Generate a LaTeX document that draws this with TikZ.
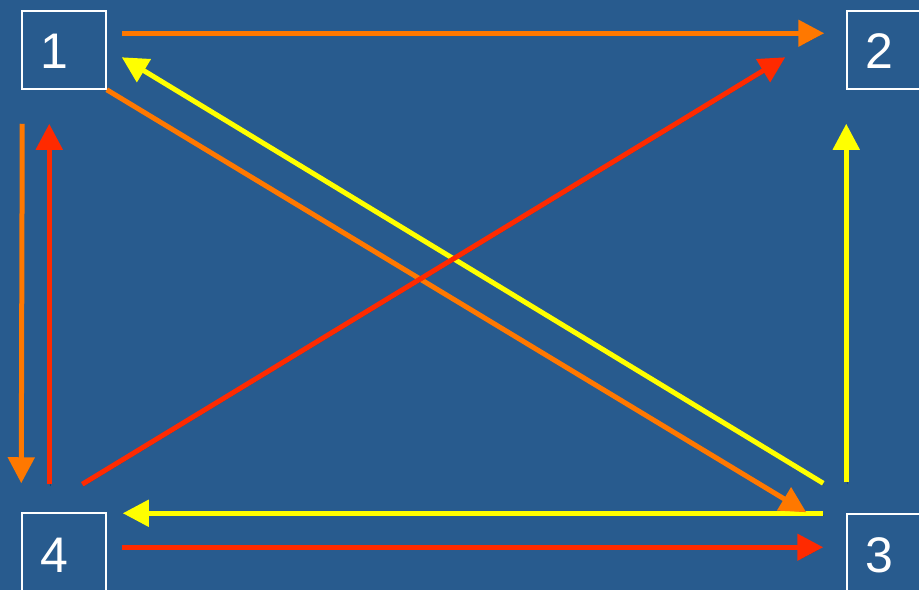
\documentclass[tikz,border=0pt]{standalone}
\usepackage{fontspec}
\setmainfont{Liberation Sans}
\usetikzlibrary{arrows.meta,calc}
\definecolor{bg}{RGB}{40,91,142}
\definecolor{cOrange}{RGB}{255,120,0}
\definecolor{cRed}{RGB}{255,42,0}
\definecolor{cYellow}{RGB}{255,255,0}
\tikzset{
  box/.style={draw=white, line width=1.5pt, minimum width=84pt, minimum height=78pt, inner sep=0pt},
  num/.style={text=white, font=\fontsize{50}{60}\selectfont, inner sep=0pt},
  arr/.style={line width=5pt, -{Triangle[length=26pt,width=26pt]},
    preaction={draw=black, opacity=0.25, transform canvas={shift={(1pt,-2pt)}}}}
}
\begin{document}
\begin{tikzpicture}[x=1pt,y=-1pt]
\fill[bg] (0,0) rectangle (919,590);
\useasboundingbox (0,0) rectangle (919,590);
\clip (0,0) rectangle (919,590);
\node[box] (n1) at (64,50) {};
\node[box] (n2) at (889,50) {};
\node[box] (n4) at (64,552) {};
\node[box] (n3) at (889,553) {};
\node[num] (l1) at (54,51) {1};
\node[num] (l2) at (879,51) {2};
\node[num] (l4) at (54,555) {4};
\node[num] (l3) at (879,555) {3};
% yellow
\draw[arr, cYellow] ($(n3.north west)+(-23,-30)$) -- ($(n1.north east)+(15,47)$);
\draw[arr, cYellow] ($(n3.north west)+(0,-31)$) -- ($(n2.south west)+(0,34)$);
\draw[arr, cYellow] ($(n3.north west)+(-23,0)$) -- ($(n4.north east)+(16,1)$);
% orange
\draw[arr, cOrange] ($(n1.north east)+(15,23)$) -- ($(n2.north west)+(-22,23)$);
\draw[arr, cOrange] (n1.south east) -- ($(n3.north west)+(-40,-1)$);
\draw[arr, cOrange] ($(n1.south west)+(1,34)$) -- ($(n4.north west)+(0,-29)$);
% red
\draw[arr, cRed] ($(n4.north west)+(61,-28)$) -- ($(n2.north west)+(-61,47)$);
\draw[arr, cRed] ($(n4.north west)+(28,-28)$) -- ($(n1.south west)+(28,34)$);
\draw[arr, cRed] ($(n4.north east)+(15,35)$) -- ($(n3.north west)+(-23,34)$);
\end{tikzpicture}
\end{document}
